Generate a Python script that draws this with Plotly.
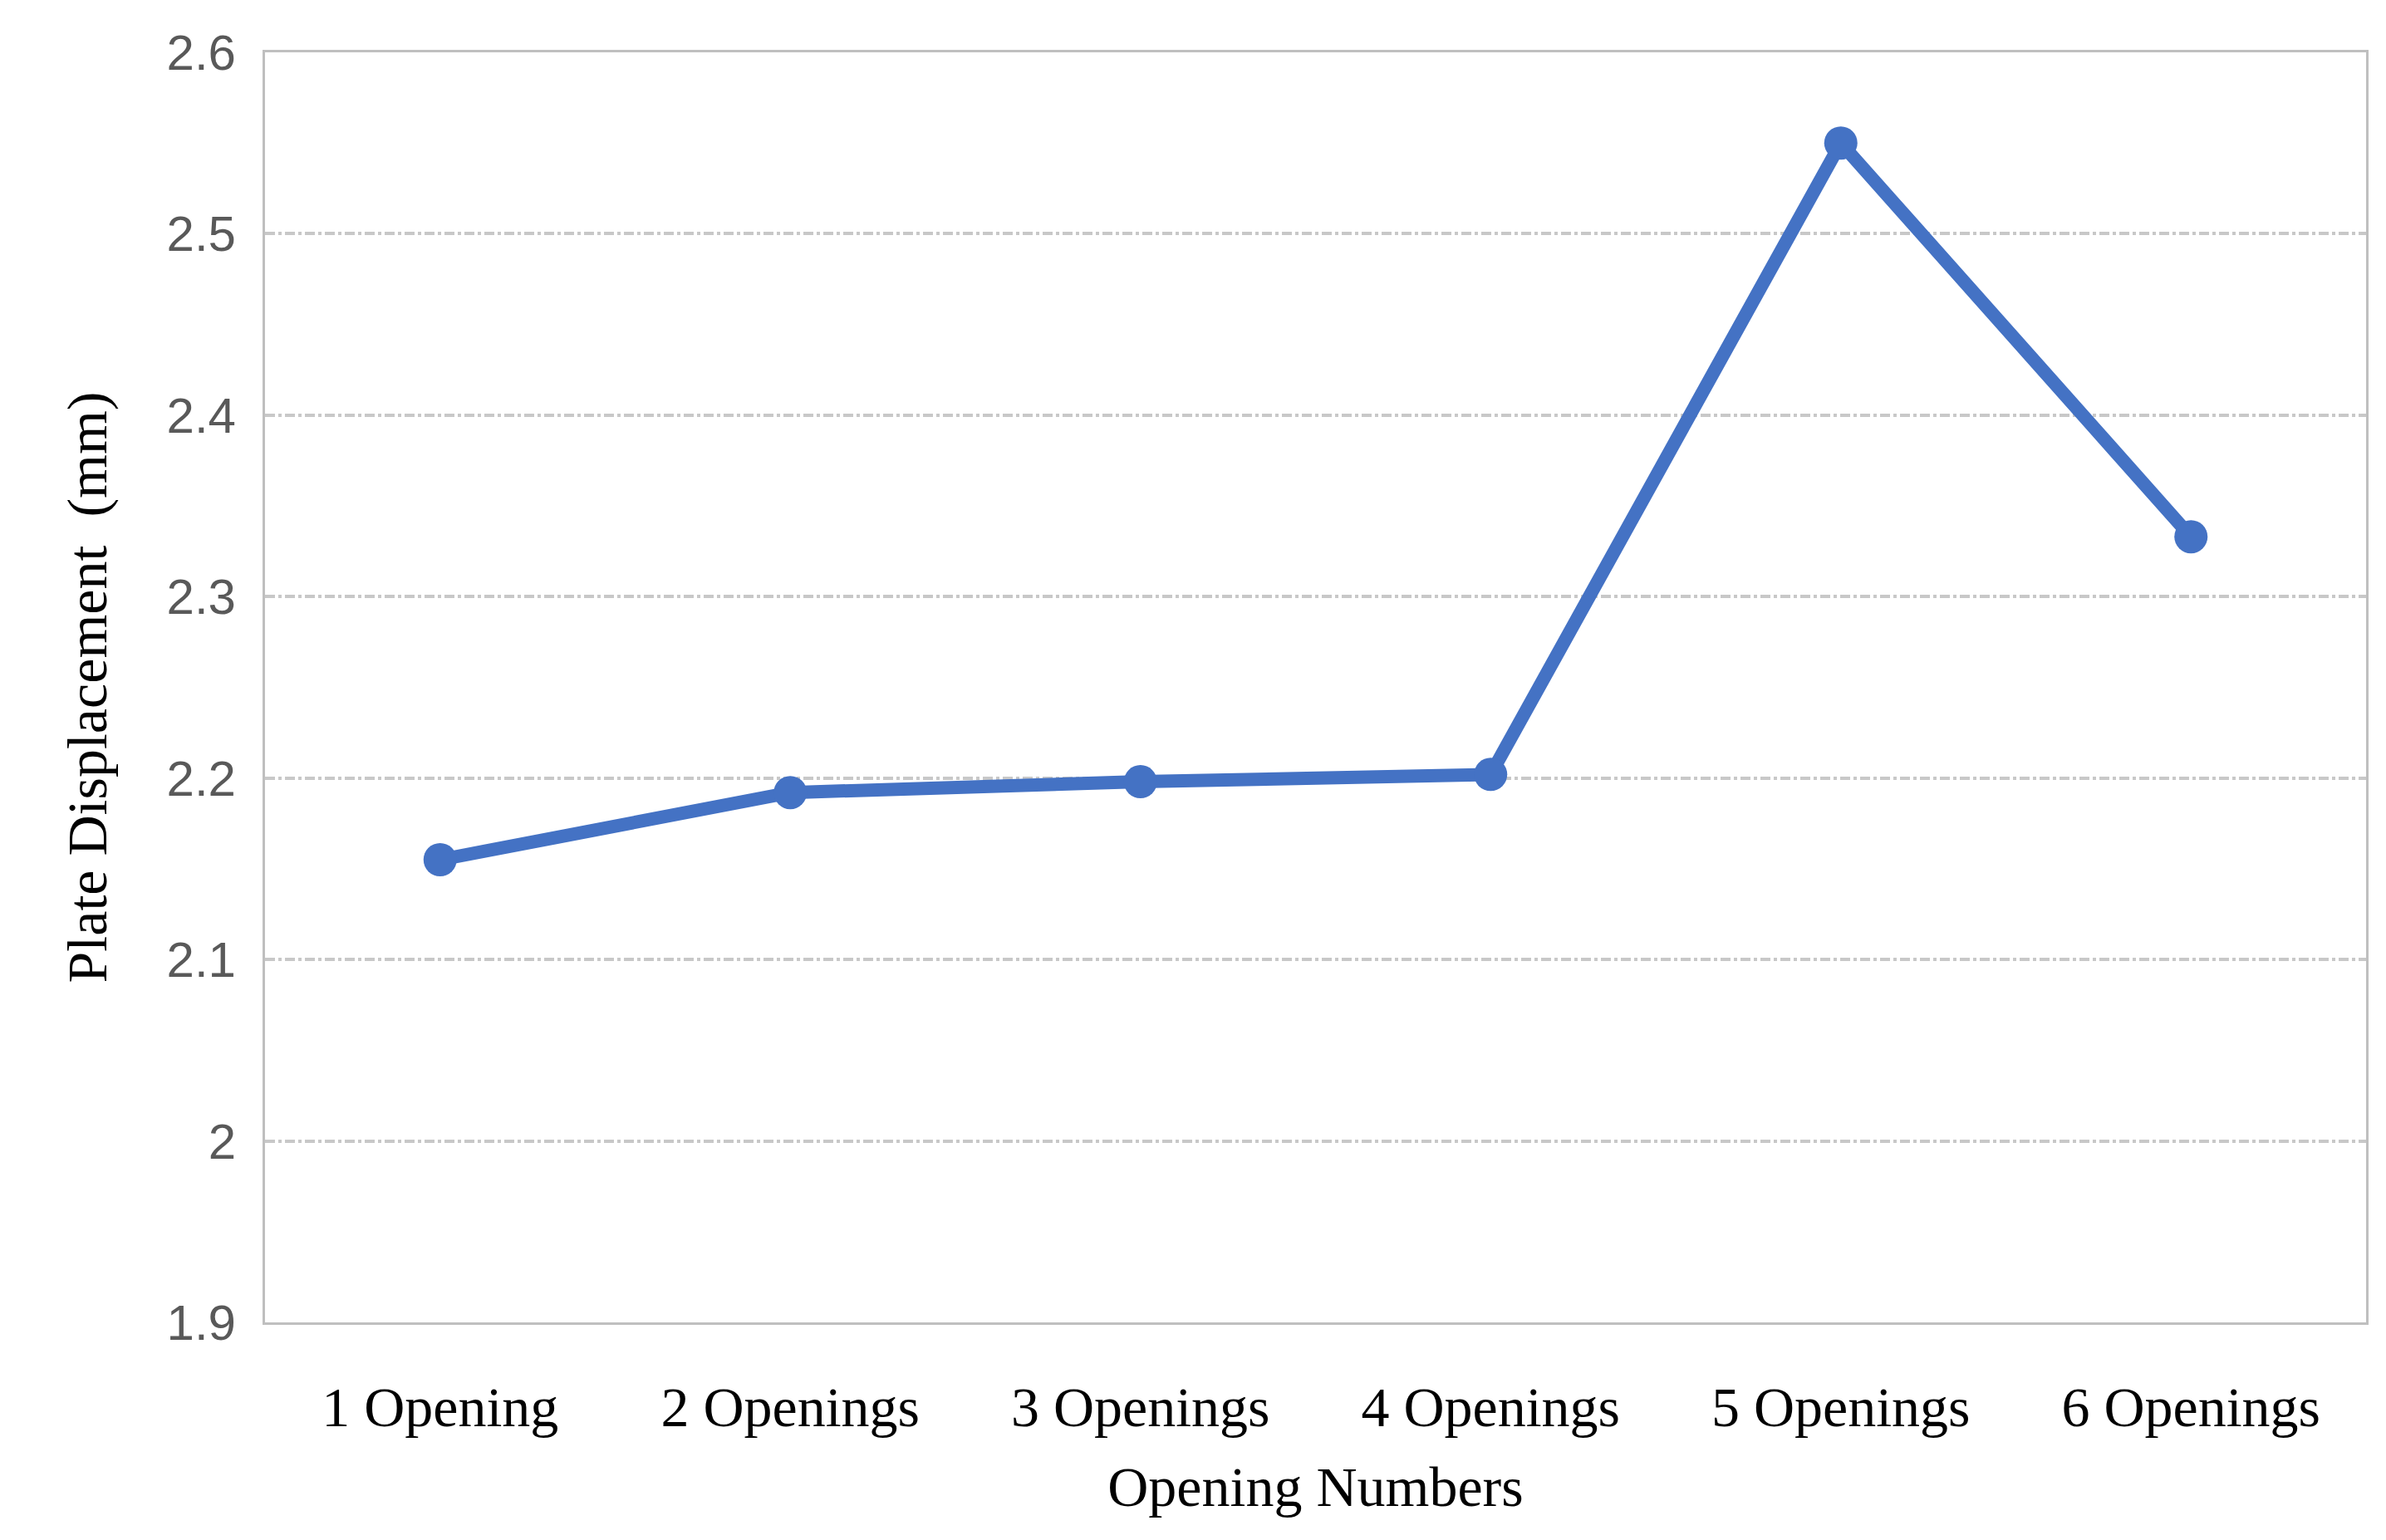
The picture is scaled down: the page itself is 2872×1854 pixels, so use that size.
import plotly.graph_objects as go

categories = ["1 Opening", "2 Openings", "3 Openings", "4 Openings", "5 Openings", "6 Openings"]
displacement = [2.155, 2.192, 2.198, 2.202, 2.550, 2.333]

fig = go.Figure()
fig.add_trace(go.Scatter(
    x=categories, y=displacement, mode="lines+markers",
    line=dict(color="#4472C4", width=16),
    marker=dict(color="#4472C4", size=40),
    showlegend=False,
))

fig.update_layout(
    width=2872, height=1854,
    margin=dict(l=311, r=32, t=55, b=270),
    plot_bgcolor="white", paper_bgcolor="white",
    xaxis=dict(
        title=dict(text="Opening Numbers", font=dict(family="Liberation Serif", size=68, color="black"), standoff=35),
        tickfont=dict(family="Liberation Serif", size=68, color="black"),
        range=[-0.5, 5.5], ticklabelstandoff=40,
        showline=True, linecolor="#bfbfbf", linewidth=3, mirror=True,
        showgrid=False, ticks="",
    ),
    yaxis=dict(
        title=dict(text="Plate Displacement  (mm)", font=dict(family="Liberation Serif", size=68, color="black"), standoff=50),
        tickfont=dict(family="Liberation Sans", size=60, color="#595959"),
        range=[1.9, 2.6], dtick=0.1, tickformat="~g", ticklabelstandoff=20,
        showline=True, linecolor="#bfbfbf", linewidth=3, mirror=True,
        showgrid=True, gridcolor="#c8c8c8", gridwidth=4, griddash="dashdot",
        zeroline=False, ticks="",
    ),
)

fig.write_html("out.html")
